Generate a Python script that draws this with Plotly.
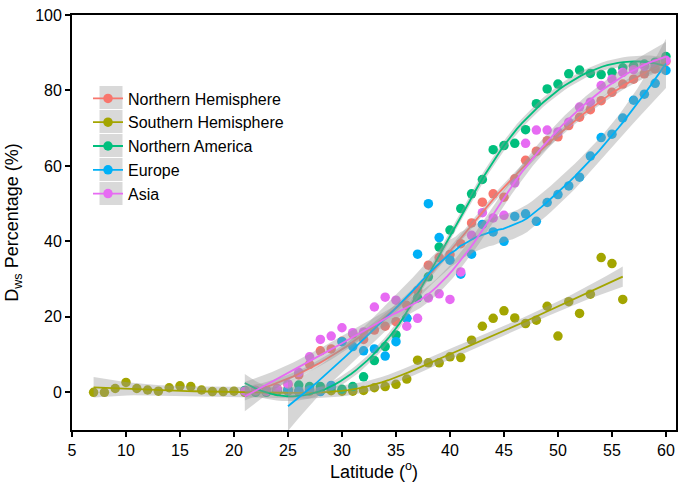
import numpy as np
import plotly.graph_objects as go

# ---------------- data ----------------
series_names = ["Northern Hemisphere", "Southern Hemisphere", "Northern America", "Europe", "Asia"]
series_colors = ["#F8766D", "#A3A500", "#00BF7D", "#00B0F6", "#E76BF3"]

nh_lat = list(range(21, 61))
nh_val = [0.2, 0.5, 0.5, 1.0, 2.0, 4.6, 7.4, 11.0, 11.5, 13.5, 15.5, 14.0, 16.5,
          17.5, 18.7, 23.0, 27.0, 33.7, 35.7, 36.5, 39.4, 44.9, 50.4, 52.6, 51.7,
          56.6, 61.5, 63.9, 66.7, 67.7, 70.7, 72.9, 74.9, 77.3, 79.5, 81.7, 83.0,
          84.4, 85.7, 87.7]

sh_lat = list(range(7, 57))
sh_val = [0.0, 0.0, 1.0, 2.6, 1.0, 0.6, 0.3, 1.2, 1.7, 1.5, 0.6, 0.2, 0.2, 0.3,
          0.0, 0.2, 0.3, 0.2, 0.3, 0.2, 0.3, 0.3, 0.4, 0.3, 0.3, 0.5, 1.2, 1.5,
          2.1, 3.5, 8.5, 7.8, 7.8, 9.4, 9.2, 13.8, 17.5, 19.6, 21.6, 19.7, 18.2,
          19.1, 22.8, 14.9, 24.0, 20.9, 26.0, 35.7, 34.1, 24.6]

na_lat = list(range(21, 61))
na_val = [0.5, 0.0, 0.0, 0.5, 0.8, 1.9, 1.5, 1.5, 1.2, 0.8, 1.5, 4.1, 8.4, 12.1,
          15.2, 19.6, 25.0, 30.6, 38.5, 43.0, 48.7, 52.6, 56.4, 64.3, 65.4, 66.0,
          69.6, 76.5, 80.4, 81.7, 84.4, 85.4, 84.5, 84.2, 84.8, 86.0, 86.5, 87.0,
          87.5, 89.0]

eu_lat = list(range(25, 61))
eu_val = [0.5, 0.3, 0.6, 0.2, 1.8, 13.4, 12.1, 11.0, 11.5, 9.6, 13.4, 19.6, 36.6,
          50.0, 41.0, 35.0, 31.3, 36.6, 44.5, 42.5, 40.0, 46.6, 47.3, 45.3, 50.3,
          52.4, 54.7, 57.0, 62.6, 67.5, 68.4, 72.7, 77.4, 79.0, 81.9, 85.3]

as_lat = list(range(21, 61))
as_val = [0.3, 0.5, 0.3, 0.8, 2.2, 5.3, 9.4, 14.0, 14.9, 17.1, 15.8, 16.0, 22.6,
          25.2, 24.4, 17.5, 19.6, 25.0, 26.1, 24.6, 31.9, 41.6, 47.6, 46.2, 46.9,
          55.5, 66.0, 69.5, 69.5, 69.0, 71.6, 75.6, 76.9, 81.3, 83.0, 84.8, 85.5,
          86.4, 87.0, 88.0]

series_x = [nh_lat, sh_lat, na_lat, eu_lat, as_lat]
series_y = [nh_val, sh_val, na_val, eu_val, as_val]

x_ticks = [5, 10, 15, 20, 25, 30, 35, 40, 45, 50, 55, 60]
y_ticks = [0, 20, 40, 60, 80, 100]


# ---------------- loess smoother (like geom_smooth, span 0.75, degree 2) ----------------
def loess_rows(x, x0s, span=0.75):
    n = len(x)
    q = int(np.floor(n * span))
    rows = []
    for x0 in x0s:
        d = np.abs(x - x0)
        h = np.sort(d)[q - 1]
        u = np.clip(d / h, 0, 1)
        w = (1 - u ** 3) ** 3
        X = np.vstack([np.ones(n), x - x0, (x - x0) ** 2]).T
        XtW = X.T * w
        A = np.linalg.solve(XtW @ X, XtW)
        rows.append(A[0])
    return np.array(rows)


def loess_fit(x, y, npts=80):
    x = np.asarray(x, float)
    y = np.asarray(y, float)
    n = len(x)
    xs = np.linspace(x.min(), x.max(), npts)
    Lg = loess_rows(x, xs)
    Ld = loess_rows(x, x)
    fit = Lg @ y
    I = np.eye(n)
    M = (I - Ld).T @ (I - Ld)
    d1 = np.trace(M)
    d2 = np.trace(M @ M)
    rss = np.sum((y - Ld @ y) ** 2)
    sigma = np.sqrt(rss / d1)
    se = sigma * np.sqrt(np.sum(Lg ** 2, axis=1))
    df = d1 ** 2 / d2
    z = 1.959964
    t = z + (z ** 3 + z) / (4 * df) + (5 * z ** 5 + 16 * z ** 3 + 3 * z) / (96 * df ** 2)
    return xs, fit, fit - t * se, fit + t * se


fig = go.Figure()

# points
for name, col, xv, yv in zip(series_names, series_colors, series_x, series_y):
    fig.add_trace(go.Scatter(x=xv, y=yv, mode="markers", name=name, legendgroup=name,
                             showlegend=False,
                             marker=dict(color=col, size=9.5, line=dict(width=0))))

# smooths with confidence ribbons
for name, col, xv, yv in zip(series_names, series_colors, series_x, series_y):
    xs, fit, lo, hi = loess_fit(xv, yv)
    fig.add_trace(go.Scatter(x=np.concatenate([xs, xs[::-1]]),
                             y=np.concatenate([hi, lo[::-1]]),
                             mode="lines", fill="toself", fillcolor="rgba(153,153,153,0.4)",
                             line=dict(width=0), hoverinfo="skip", showlegend=False,
                             legendgroup=name))
    fig.add_trace(go.Scatter(x=xs, y=fit, mode="lines", line=dict(color=col, width=1.8),
                             showlegend=False, legendgroup=name, name=name))

# legend entries
for i, (name, col) in enumerate(zip(series_names, series_colors)):
    fig.add_trace(go.Scatter(x=[None], y=[None], mode="lines+markers", name=name,
                             legendgroup=name, legendrank=i + 1,
                             line=dict(color=col, width=1.8),
                             marker=dict(color=col, size=9.5)))

font_family = "Liberation Sans, Arial, sans-serif"

# figure geometry (page body margin is removed in post_script)
W, H = 688, 482
ml, mr, mt, mb = 72, 12, 15, 52
pw, ph = W - ml - mr, H - mt - mb
leg_left_px = 88
leg_top_px = 81.5
key_cx = 111
key_cy0 = 97.5
key_step = 24
key_half = 11.5

shapes = []
for i in range(len(series_names)):
    cy = key_cy0 + key_step * i
    shapes.append(dict(type="rect", xref="paper", yref="paper",
                       x0=(key_cx - key_half - ml) / pw, x1=(key_cx + key_half - ml) / pw,
                       y0=(H - mb - (cy + key_half)) / ph, y1=(H - mb - (cy - key_half)) / ph,
                       line=dict(width=0), fillcolor="#D9D9D9", layer="below"))

fig.update_layout(
    width=W, height=H,
    margin=dict(l=ml, r=mr, t=mt, b=mb),
    paper_bgcolor="white", plot_bgcolor="white",
    font=dict(family=font_family, size=16, color="black"),
    showlegend=True,
    legend=dict(x=(leg_left_px - ml) / pw, y=(H - mb - leg_top_px) / ph,
                xanchor="left", yanchor="top",
                bgcolor="rgba(0,0,0,0)", font=dict(size=16, color="black"),
                traceorder="normal"),
    xaxis=dict(range=[5, 60.93], tickvals=x_ticks, ticktext=[str(v) for v in x_ticks],
               showgrid=False, zeroline=False, showline=True, mirror=True,
               linecolor="black", linewidth=1.8, ticks="outside", ticklen=5, tickwidth=2,
               tickcolor="black", tickfont=dict(size=16, color="black"), automargin=False,
               title=dict(text="Latitude (<sup>o</sup>)", font=dict(size=18, color="black"),
                          standoff=6)),
    yaxis=dict(range=[-10, 100], tickvals=y_ticks, ticktext=[str(v) for v in y_ticks],
               showgrid=False, zeroline=False, showline=True, mirror=True,
               linecolor="black", linewidth=1.8, ticks="outside", ticklen=5, tickwidth=2,
               tickcolor="black", tickfont=dict(size=16, color="black"), automargin=False,
               title=dict(text="D<sub>ws</sub> Percentage (%)", font=dict(size=18, color="black"),
                          standoff=12)),
    shapes=shapes,
)

fig.write_html("out.html", config={"displayModeBar": False},
               post_script="document.body.style.margin='0';document.body.style.overflow='hidden';")
